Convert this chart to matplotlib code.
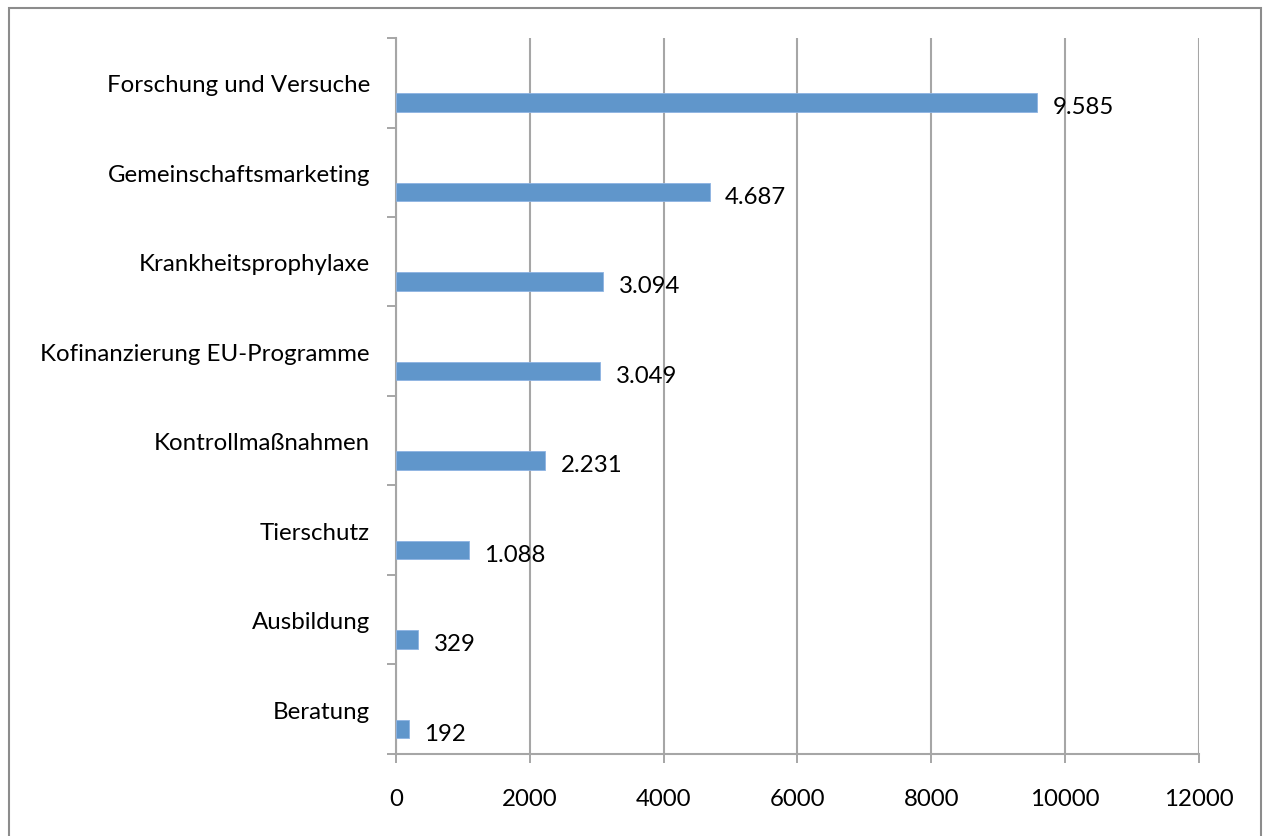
import matplotlib
matplotlib.use('Agg')
import matplotlib.pyplot as plt
from matplotlib.patches import Rectangle
import numpy as np

# Ausgaben je Bereich
bereiche = ['Forschung und Versuche', 'Gemeinschaftsmarketing', 'Krankheitsprophylaxe',
            'Kofinanzierung EU-Programme', 'Kontrollmaßnahmen', 'Tierschutz',
            'Ausbildung', 'Beratung']
werte = [9585, 4687, 3094, 3049, 2231, 1088, 329, 192]
xticks = [0, 2000, 4000, 6000, 8000, 10000, 12000]

plt.rcParams['font.family'] = ['Lato', 'DejaVu Sans']
grau = '#A6A6A6'
blau = '#6096CB'
fs = 17.3

fig = plt.figure(figsize=(12.63, 8.37), dpi=100)
ax = fig.add_axes([0.3138, 0.098, 0.6352, 0.8554])

pos = np.arange(len(bereiche))
ax.barh(pos + 0.22, werte, height=0.21, color=blau, edgecolor='#8DB3E2', linewidth=0.6, zorder=3)

for p, w in zip(pos, werte):
    txt = f'{w:,}'.replace(',', '.')
    ax.annotate(txt, (w, p + 0.22), xytext=(11, -3), textcoords='offset points',
                va='center', ha='left', fontsize=fs)

ax.set_xlim(0, 12000)
ax.set_ylim(len(bereiche) - 0.5, -0.5)
ax.set_xticks(xticks)
ax.set_xticklabels([str(x) for x in xticks], fontsize=fs)
ax.set_yticks(pos)
ax.set_yticklabels(bereiche, fontsize=fs, va='center_baseline')
ax.set_yticks(np.arange(len(bereiche) + 1) - 0.5, minor=True)

ax.tick_params(axis='y', which='major', length=0, pad=19)
ax.tick_params(axis='y', which='minor', length=6.5, width=1.4, color=grau)
ax.tick_params(axis='x', which='major', length=6.5, width=1.4, color=grau, pad=18)

ax.grid(axis='x', color=grau, linewidth=1.5, zorder=0)
ax.set_axisbelow(True)
for s in ['top', 'right']:
    ax.spines[s].set_visible(False)
for s in ['left', 'bottom']:
    ax.spines[s].set_color(grau)
    ax.spines[s].set_linewidth(1.5)

# Rahmen um das Diagramm
rahmen = Rectangle((9 / 1263, -0.05), 1252 / 1263, 1.05 - 9 / 837, transform=fig.transFigure,
                   fill=False, edgecolor='#8C8C8C', linewidth=1.5, clip_on=False)
fig.patches.append(rahmen)

fig.savefig('out.png', dpi=100)
